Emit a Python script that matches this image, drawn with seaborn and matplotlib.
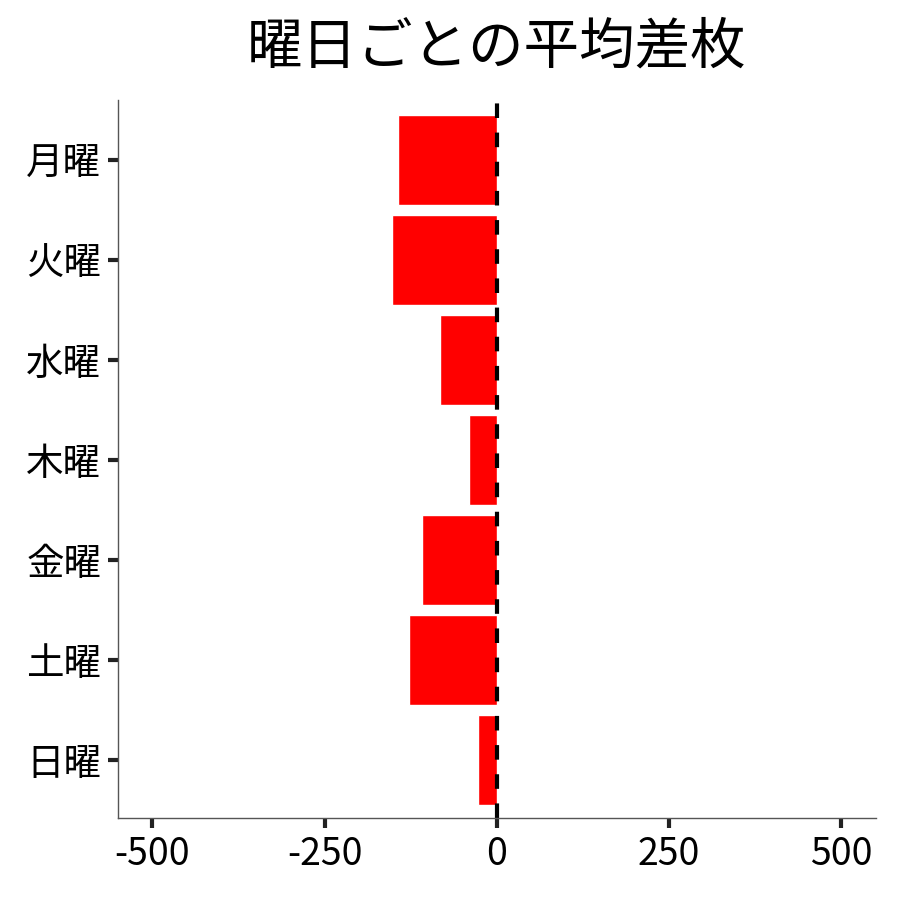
import pandas as pd
import matplotlib.pyplot as plt
import seaborn as sns

# 曜日ごとの平均差枚
days = ["月曜", "火曜", "水曜", "木曜", "金曜", "土曜", "日曜"]
avg_diff = [-143, -152, -82, -40, -108, -127, -27]

df = pd.DataFrame({"day": days, "diff": avg_diff})

sns.set_style("white")
plt.rcParams["font.family"] = ["Noto Sans CJK JP", "DejaVu Sans"]

fig = plt.figure(figsize=(9, 9), dpi=100)
ax = fig.add_axes([0.131, 0.091, 0.842, 0.798])

sns.barplot(data=df, x="diff", y="day", order=days, color="#ff0000",
            saturation=1, width=0.9, ax=ax)
ax.axvline(0, color="black", linestyle=(0, (3.5, 3.5)), linewidth=3)

ax.set_xlim(-550, 550)
ax.set_ylim(6.58, -0.6)
ax.set_xticks([-500, -250, 0, 250, 500])
ax.set_xticklabels(["-500", "-250", "0", "250", "500"])
ax.set_xlabel("")
ax.set_ylabel("")
ax.set_title("曜日ごとの平均差枚", fontsize=40, color="black", pad=26)

for side in ["top", "right"]:
    ax.spines[side].set_visible(False)
for side in ["left", "bottom"]:
    ax.spines[side].set_color("#555555")
    ax.spines[side].set_linewidth(1)

ax.tick_params(axis="both", length=7, width=3, color="#222222",
               labelsize=27, labelcolor="black", pad=5)
ax.tick_params(axis="x", direction="out", bottom=True)
ax.tick_params(axis="y", direction="out", left=True)

fig.savefig("out.png", dpi=100)
